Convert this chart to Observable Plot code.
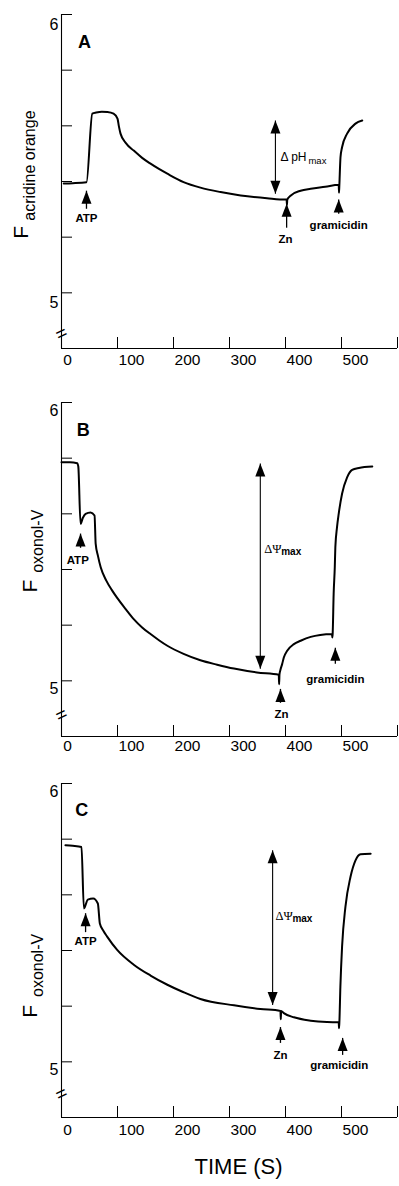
<!DOCTYPE html>
<html><head><meta charset="utf-8">
<script src="https://cdn.jsdelivr.net/npm/d3@7"></script>
<script src="https://cdn.jsdelivr.net/npm/@observablehq/plot@0.6"></script>
<style>
body{margin:0;background:#fff;}
#chart svg{display:block;}
</style></head><body><div id="chart"></div>
<script>
// ---------- data ----------
const xTicks = [100, 200, 300, 400, 500, 600];
const xTickLabels = [0, 100, 200, 300, 400, 500];
const yTicks = [5, 5.2, 5.4, 5.6, 5.8, 6];
const yTickLabels = [5, 6];
const panelLetters = ["A", "B", "C"];
const letterT = [41, 39, 36];
const letterF = [5.899, 5.899, 5.903];
const yLabelMain = "F";
const yLabelSubs = ["acridine orange", "oxonol-V", "oxonol-V"];
const xTitle = "TIME (S)";

// Panel A trace (time s, fluorescence)
const timeA = [4, 20, 44.6, 55, 62, 72, 82, 93, 100, 102.5, 105.4, 115, 129, 144, 159, 174, 189, 218, 248, 284, 320, 367, 400, 402, 402.6, 403.2, 409, 427, 445, 471, 495, 495.6, 496.2, 498.2, 501, 510, 525, 537];
const fA = [5.393, 5.394, 5.397, 5.644, 5.648, 5.651, 5.650, 5.644, 5.626, 5.598, 5.572, 5.538, 5.511, 5.485, 5.464, 5.445, 5.428, 5.398, 5.378, 5.362, 5.350, 5.340, 5.335, 5.335, 5.317, 5.335, 5.349, 5.367, 5.374, 5.381, 5.388, 5.360, 5.388, 5.487, 5.523, 5.572, 5.608, 5.619];

// Panel B trace
const timeB = [0, 15, 28, 30, 34, 38, 43, 52, 59, 61, 65, 70, 80, 90, 99.4, 115, 129, 144, 159, 174, 189, 218, 248, 278, 308, 349, 388, 388.6, 389.2, 391, 394, 397, 403, 415, 427, 445, 462, 483, 483.6, 484.2, 486, 488, 489, 492, 495, 501, 510, 519, 531, 555];
const fB = [5.785, 5.785, 5.782, 5.770, 5.564, 5.585, 5.600, 5.605, 5.594, 5.493, 5.450, 5.408, 5.360, 5.326, 5.298, 5.257, 5.222, 5.192, 5.168, 5.146, 5.126, 5.097, 5.074, 5.058, 5.044, 5.030, 5.022, 4.988, 5.022, 5.040, 5.060, 5.084, 5.108, 5.132, 5.144, 5.158, 5.165, 5.168, 5.156, 5.168, 5.313, 5.408, 5.480, 5.552, 5.600, 5.672, 5.731, 5.758, 5.765, 5.770];

// Panel C trace
const timeC = [7, 20, 35.7, 40, 47, 56.6, 64.9, 68.5, 75, 81.5, 99.4, 129, 159, 189, 218, 248, 308, 355, 391, 391.6, 392.2, 397, 415, 445, 474, 495, 495.6, 496.2, 498, 501, 507, 516, 525, 534, 552];
const fC = [5.778, 5.776, 5.772, 5.551, 5.583, 5.587, 5.569, 5.497, 5.470, 5.450, 5.402, 5.349, 5.310, 5.277, 5.250, 5.226, 5.203, 5.190, 5.183, 5.153, 5.183, 5.175, 5.160, 5.148, 5.143, 5.142, 5.121, 5.142, 5.270, 5.413, 5.557, 5.664, 5.724, 5.746, 5.748];

// Addition arrows (time, arrow tip, arrow tail, label position)
const eventsA = [
  {label: "ATP", t: 44.6, tip: 5.367, tail: 5.302, labelT: 44.6, labelF: 5.266},
  {label: "Zn", t: 402, tip: 5.320, tail: 5.234, labelT: 400, labelF: 5.191},
  {label: "gramicidin", t: 495, tip: 5.335, tail: 5.284, labelT: 495, labelF: 5.243}
];
const eventsB = [
  {label: "ATP", t: 34, tip: 5.529, tail: 5.478, labelT: 29, labelF: 5.432},
  {label: "Zn", t: 391, tip: 4.971, tail: 4.921, labelT: 393, labelF: 4.878},
  {label: "gramicidin", t: 489, tip: 5.119, tail: 5.061, labelT: 489, labelF: 5.004}
];
const eventsC = [
  {label: "ATP", t: 43, tip: 5.534, tail: 5.466, labelT: 43, labelF: 5.434},
  {label: "Zn", t: 391, tip: 5.125, tail: 5.068, labelT: 391, labelF: 5.025},
  {label: "gramicidin", t: 502, tip: 5.086, tail: 5.025, labelT: 496, labelF: 4.989}
];

// Double-headed "max" arrows
const maxA = {t: 382, top: 5.619, bottom: 5.356, labelT: 391, labelF: 5.486, text: "Δ pH", sub: "max"};
const maxB = {t: 355, top: 5.781, bottom: 5.043, labelT: 362, labelF: 5.475, text: "ΔΨ", sub: "max"};
const maxC = {t: 377, top: 5.760, bottom: 5.204, labelT: 382, labelF: 5.523, text: "ΔΨ", sub: "max"};

// Axis break position on each y axis
const breakF = [4.853, 4.878, 4.885];

// ---------- drawing ----------
const W = 399, ML = 61, MR = 2, MT = 14, PH = 334;
const frameW = W - ML - MR;
const sans = '"Liberation Sans", Arial, Helvetica, sans-serif';
const serif = '"Liberation Serif", "Times New Roman", serif';
const arrowHead = {draw(ctx) { ctx.moveTo(0, 0); ctx.lineTo(-5, 13); ctx.lineTo(5, 13); ctx.closePath(); }};

function panel(i, time, f, events, mx, cfg) {
  const data = time.map((t, k) => ({t, f: f[k]}));
  const marks = [
    Plot.ruleX([0], {stroke: "black", strokeWidth: 1.1}),
    Plot.ruleY([4.8], {stroke: "black", strokeWidth: 1.1}),
    Plot.tickY(yTicks, {y: d => d, insetRight: frameW - 11, stroke: "black"}),
    Plot.tickX(xTicks, {x: d => d, insetTop: PH - 11, stroke: "black"}),
    Plot.axisY(yTickLabels, {tickSize: 0, tickPadding: 3, dy: cfg.yLabDy, fontSize: 16, label: null, tickFormat: d => String(d)}),
    Plot.axisX([0], {tickSize: 0, tickPadding: cfg.xPad, dx: 6, fontSize: 15.5, label: null, tickFormat: d => String(d)}),
    Plot.axisX(xTickLabels.slice(1), {tickSize: 0, tickPadding: cfg.xPad, dx: 14, fontSize: 15.5, label: null, tickFormat: d => String(d)}),
    Plot.text([{y: breakF[i]}], {x: 0, y: "y", text: () => "=", fontSize: 19, rotate: -25, fill: "black"}),
    // y axis title
    Plot.text([{y: cfg.fY}], {frameAnchor: "left", y: "y", text: () => yLabelMain, rotate: -90, textAnchor: "start", dx: cfg.fDx, fontSize: 21}),
    Plot.text([{y: cfg.subY}], {frameAnchor: "left", y: "y", text: () => yLabelSubs[i], rotate: -90, textAnchor: "start", dx: cfg.subDx, fontSize: 16}),
    // panel letter
    Plot.text([{t: letterT[i], f: letterF[i]}], {x: "t", y: "f", text: () => panelLetters[i], fontWeight: "bold", fontSize: 18}),
    // trace
    Plot.line(data, {x: "t", y: "f", stroke: "black", strokeWidth: 2, curve: "monotone-x"}),
    // event arrows
    Plot.link(events, {x1: "t", x2: "t", y1: "tip", y2: "tail", stroke: "black", strokeWidth: 1.3}),
    Plot.dot(events, {x: "t", y: "tip", symbol: arrowHead, fill: "black", stroke: null}),
    Plot.text(events, {x: "labelT", y: "labelF", text: "label", fontWeight: "bold", fontSize: 11.5}),
    // max arrow
    Plot.link([mx], {x1: "t", x2: "t", y1: "top", y2: "bottom", stroke: "black", strokeWidth: 1.1}),
    Plot.dot([mx], {x: "t", y: "top", symbol: arrowHead, fill: "black", stroke: null}),
    Plot.dot([mx], {x: "t", y: "bottom", symbol: arrowHead, rotate: 180, fill: "black", stroke: null}),
    Plot.text([mx], {x: "labelT", y: "labelF", text: "text", textAnchor: "start", fontSize: cfg.maxFont, fontFamily: cfg.maxFamily}),
    Plot.text([mx], {x: "labelT", y: "labelF", text: "sub", textAnchor: "start", dx: cfg.maxSubDx, dy: 3, fontSize: cfg.subFont, fontWeight: cfg.subWeight})
  ];
  if (cfg.title) {
    marks.push(Plot.text([{s: xTitle}], {frameAnchor: "bottom", text: "s", dy: 56, dx: 9, fontSize: 22}));
  }
  return Plot.plot({
    width: W, height: cfg.height,
    marginLeft: ML, marginRight: MR, marginTop: MT, marginBottom: cfg.height - MT - PH,
    style: {fontFamily: sans, background: "white", color: "black", overflow: "visible"},
    x: {domain: [0, 600], label: null},
    y: {domain: [4.8, 6], label: null},
    marks
  });
}

const root = document.getElementById("chart");
root.append(panel(0, timeA, fA, eventsA, maxA, {
  height: 388, yLabDy: 10, xPad: 5, fY: 5.194, fDx: -40, subY: 5.259, subDx: -32,
  maxFont: 12, maxFamily: sans, maxSubDx: 28, subFont: 9.5, subWeight: "normal"
}));
root.append(panel(1, timeB, fB, eventsB, maxB, {
  height: 381, yLabDy: 8, xPad: 3, fY: 5.317, fDx: -31, subY: 5.388, subDx: -24,
  maxFont: 12.5, maxFamily: serif, maxSubDx: 17, subFont: 10, subWeight: "bold"
}));
root.append(panel(2, timeC, fC, eventsC, maxC, {
  height: 417, yLabDy: 8, xPad: 6, fY: 5.158, fDx: -31, subY: 5.233, subDx: -24,
  maxFont: 12.5, maxFamily: serif, maxSubDx: 17, subFont: 10, subWeight: "bold", title: true
}));
</script>
</body></html>
